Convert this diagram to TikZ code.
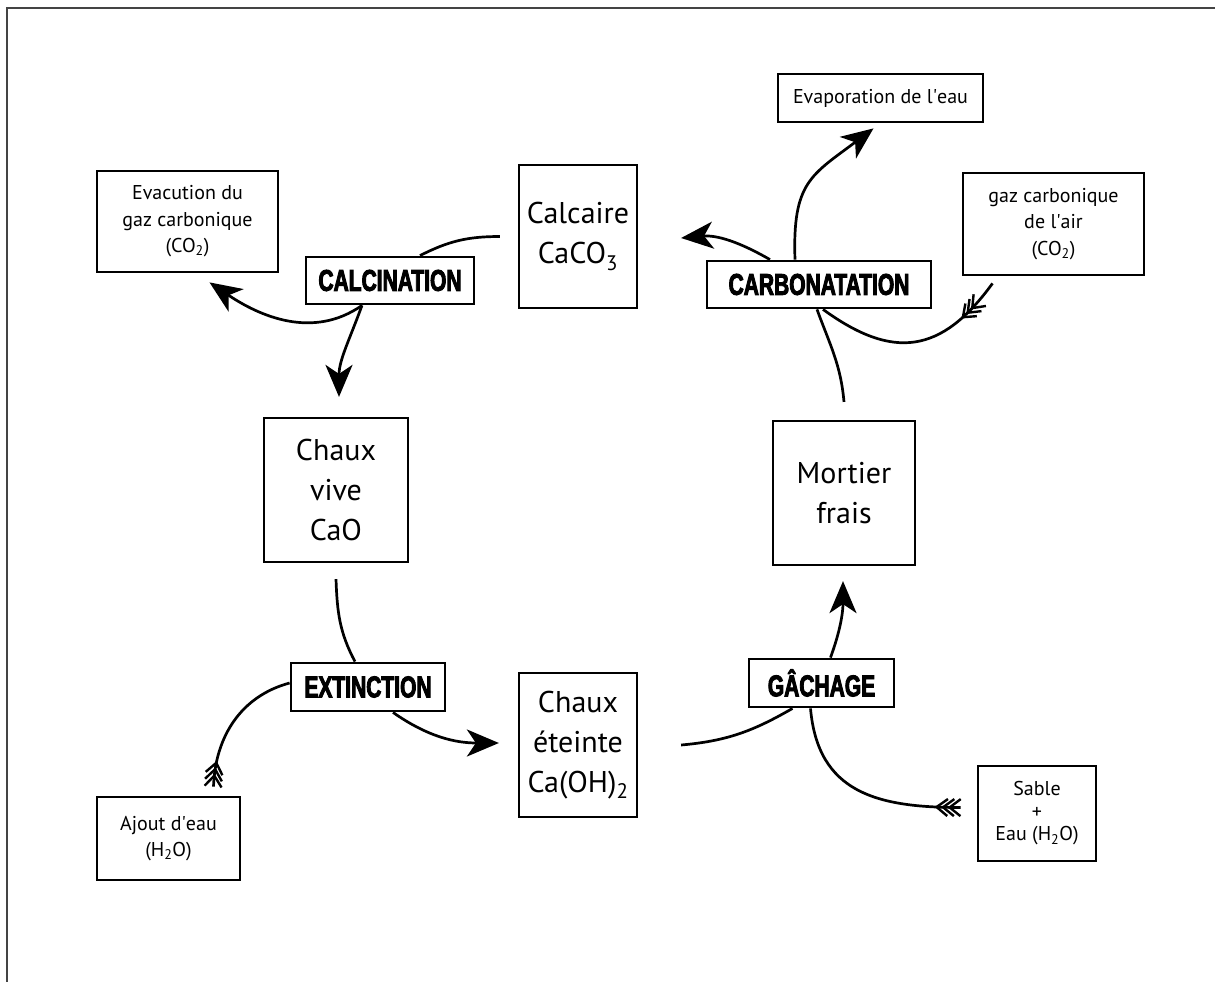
\documentclass[tikz,border=0pt]{standalone}
\usepackage{fontspec}
\setmainfont{PT Sans}
\newfontfamily\stagefamily[FakeStretch=0.7,FakeBold=3]{Liberation Sans}
\usetikzlibrary{arrows.meta,decorations.markings}
\definecolor{framegray}{HTML}{444444}

\begin{document}
\begin{tikzpicture}[
    x=1pt,y=1pt,
    bigbox/.style={draw,line width=2.2pt,align=center,inner sep=0pt,
      font=\fontsize{30}{40}\selectfont},
    notebox/.style={draw,line width=2.8pt,align=center,inner sep=0pt,
      font=\fontsize{20}{26.5}\selectfont},
    stagebox/.style={draw,line width=2.8pt,inner sep=0pt,
      font=\stagefamily\bfseries\fontsize{30}{30}\selectfont},
    flow/.style={line width=2.7pt},
    arr/.style={flow,-{Stealth[length=32pt,width=27pt,inset=9pt]}},
    fletch/.style 2 args={postaction={decorate,decoration={markings,
      mark=between positions #1 and #2 step 6.5pt with
        {\draw[line width=2.4pt,line join=round] (-11pt,8.5pt) -- (0,0) -- (-11pt,-8.5pt);}}}}
  ]
  \useasboundingbox (0,0) rectangle (1215,-982);
  \draw[framegray,line width=2pt] (6.5,-982) |- (1215,-8.5);

  % boxes
  \node[notebox,minimum width=181,minimum height=101] (evac) at (187.5,-221.5) {Evacution du\\gaz carbonique\\(CO\textsubscript{2})};
  \node[stagebox,minimum width=168,minimum height=47] (calcin) at (390,-280.5) {CALCINATION};
  \node[bigbox,minimum width=118,minimum height=143] (calcaire) at (578,-236.5) {Calcaire\\CaCO\textsubscript{3}};
  \node[notebox,minimum width=205,minimum height=48] (evap) at (880.5,-98) {Evaporation de l\textquotesingle eau};
  \node[notebox,minimum width=181,minimum height=102] (gazair) at (1053.5,-224) {gaz carbonique\\de l\textquotesingle air\\(CO\textsubscript{2})};
  \node[stagebox,minimum width=224,minimum height=47] (carbon) at (819,-284.5) {CARBONATATION};
  \node[bigbox,minimum width=144,minimum height=144] (vive) at (336,-490) {Chaux\\vive\\CaO};
  \node[bigbox,minimum width=142,minimum height=144] (mortier) at (844,-493) {Mortier\\frais};
  \node[stagebox,minimum width=154,minimum height=48] (extinct) at (368,-687) {EXTINCTION};
  \node[bigbox,minimum width=118,minimum height=144] (eteinte) at (578,-745) {Chaux\\éteinte\\Ca(OH)\textsubscript{2}};
  \node[stagebox,minimum width=145,minimum height=48] (gachage) at (821.5,-683) {GÂCHAGE};
  \node[notebox,minimum width=118,minimum height=95,font=\fontsize{20}{22.5}\selectfont] (sable) at (1037,-813.5) {Sable\\+\\Eau (H\textsubscript{2}O)};
  \node[notebox,minimum width=143,minimum height=83] (ajout) at (168.5,-838.5) {Ajout d\textquotesingle eau\\(H\textsubscript{2}O)};

  % calcination
  \draw[flow] ([xshift=-18]calcaire.west) to[out=180,in=27] ([xshift=30]calcin.north);
  \draw[arr] ([xshift=-28]calcin.south) to[out=215,in=-34] ([xshift=22,yshift=-9]evac.south);
  \draw[arr] ([xshift=-28]calcin.south) to[out=250,in=90] ([xshift=3,yshift=20]vive.north);

  % carbonatation
  \draw[flow] ([yshift=18]mortier.north) to[out=95,in=-70] ([xshift=-2]carbon.south);
  \draw[arr] ([xshift=-49]carbon.north) to[out=150,in=5] ([xshift=43,yshift=-1.5]calcaire.east);
  \draw[arr] ([xshift=-24]carbon.north) to[out=92,in=217,looseness=1.3] ([xshift=-7,yshift=-5]evap.south);
  \draw[flow,fletch={32pt}{50pt}] ([xshift=-61,yshift=-7]gazair.south) to[out=234,in=-36,looseness=1.3] ([xshift=4]carbon.south);

  % extinction
  \draw[flow] ([yshift=-16]vive.south) to[out=-88,in=118] ([xshift=-13]extinct.north);
  \draw[flow,fletch={11pt}{24pt}] ([xshift=45,yshift=9]ajout.north) to[out=88,in=195] ([yshift=4]extinct.west);
  \draw[arr] ([xshift=25]extinct.south) to[out=-35,in=180] ([xshift=-19,yshift=2]eteinte.west);

  % gachage
  \draw[flow] ([xshift=43]eteinte.east) to[out=5,in=210] ([xshift=-29]gachage.south);
  \draw[arr] ([xshift=9]gachage.north) to[out=70,in=-90] ([xshift=-1,yshift=-15]mortier.south);
  \draw[flow,fletch={11pt}{24pt}] ([xshift=-16,yshift=6]sable.west) to[out=180,in=-85,looseness=1.2] ([xshift=-11]gachage.south);
\end{tikzpicture}
\end{document}
